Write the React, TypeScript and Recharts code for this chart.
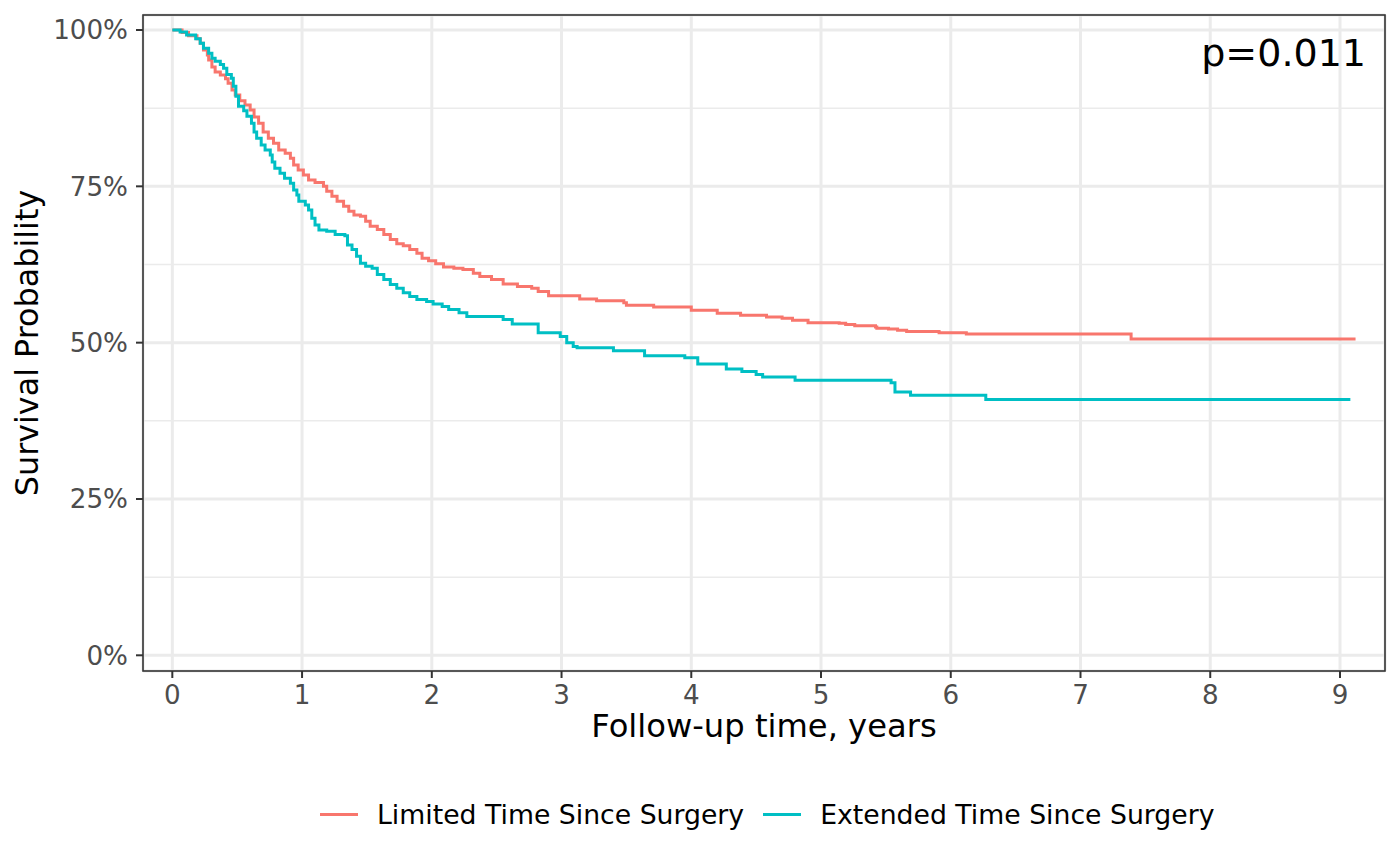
import React from 'react';
import { LineChart, Line, XAxis, YAxis, CartesianGrid } from 'recharts';

// ---- data (survival in %, time in years) ----
const limitedTime = [
  0, 0.075, 0.125, 0.19, 0.215, 0.24, 0.27, 0.28, 0.305, 0.33, 0.37, 0.41, 0.43, 0.46, 0.485,
  0.52, 0.56, 0.6, 0.63, 0.665, 0.7, 0.74, 0.78, 0.82, 0.87, 0.91, 0.935, 0.97, 1.01, 1.05,
  1.1, 1.165, 1.19, 1.23, 1.27, 1.32, 1.36, 1.4, 1.45, 1.49, 1.525, 1.58, 1.63, 1.68, 1.73,
  1.78, 1.83, 1.885, 1.925, 1.975, 2.03, 2.09, 2.17, 2.24, 2.32, 2.37, 2.46, 2.55, 2.66, 2.77,
  2.82, 2.9, 3.14, 3.27, 3.48, 3.5, 3.71, 4.0, 4.2, 4.38, 4.58, 4.7, 4.78, 4.9, 5.14,
  5.19, 5.26, 5.42, 5.43, 5.52, 5.59, 5.66, 5.91, 6.12, 7.39, 9.12,
];
const limitedSurv = [
  100, 99.6, 99.1, 98.6, 97.9, 96.8, 96.0, 95.2, 94.1, 93.3, 92.8, 92.2, 91.5, 90.4, 89.6,
  88.7, 88.0, 87.2, 86.1, 85.1, 83.7, 82.7, 81.9, 80.8, 80.3, 79.5, 78.4, 77.6, 76.8, 76.0,
  75.6, 75.0, 74.2, 73.4, 72.6, 71.8, 71.0, 70.4, 70.2, 69.4, 68.6, 68.1, 67.3, 66.5, 65.8,
  65.5, 64.9, 64.3, 63.5, 63.1, 62.6, 62.1, 61.9, 61.7, 61.1, 60.6, 60.1, 59.4, 59.0, 58.7,
  58.2, 57.5, 57.0, 56.7, 56.4, 56.0, 55.7, 55.2, 54.7, 54.4, 54.1, 53.9, 53.6, 53.2, 53.1,
  52.9, 52.7, 52.5, 52.3, 52.2, 52.0, 51.8, 51.6, 51.4, 50.6, 50.6,
];
const extendedTime = [
  0, 0.06, 0.11, 0.18, 0.215, 0.24, 0.28, 0.305, 0.33, 0.37, 0.395, 0.42, 0.455, 0.47, 0.49,
  0.51, 0.55, 0.575, 0.61, 0.63, 0.65, 0.685, 0.715, 0.755, 0.77, 0.79, 0.83, 0.865, 0.91, 0.935,
  0.96, 0.975, 1.025, 1.05, 1.075, 1.1, 1.13, 1.19, 1.255, 1.33, 1.35, 1.385, 1.42, 1.45, 1.49,
  1.54, 1.58, 1.63, 1.68, 1.73, 1.78, 1.83, 1.885, 1.96, 2.01, 2.08, 2.13, 2.21, 2.27, 2.55,
  2.62, 2.82, 2.99, 3.04, 3.09, 3.12, 3.4, 3.64, 3.95, 4.05, 4.27, 4.39, 4.5, 4.55, 4.8,
  5.54, 5.57, 5.69, 6.27, 9.08,
];
const extendedSurv = [
  100, 99.7, 99.2, 98.6, 97.9, 97.1, 96.3, 95.5, 95.0, 94.5, 93.9, 92.9, 92.3, 91.0, 89.4,
  87.8, 87.1, 86.2, 85.1, 83.7, 82.7, 81.6, 80.8, 80.0, 78.9, 77.9, 77.1, 76.3, 75.5, 74.4,
  73.6, 72.6, 72.0, 71.2, 69.9, 68.8, 68.0, 67.8, 67.3, 67.1, 65.6, 64.9, 63.8, 62.7, 62.2,
  61.9, 60.9, 60.1, 59.3, 58.7, 58.0, 57.4, 56.9, 56.6, 56.2, 55.8, 55.3, 54.8, 54.2, 53.7,
  53.0, 51.6, 51.0, 50.0, 49.4, 49.2, 48.7, 47.9, 47.6, 46.6, 45.8, 45.4, 44.9, 44.5, 44.0,
  43.6, 42.1, 41.6, 40.9, 40.9,
];

const seriesNames = ['Limited Time Since Surgery', 'Extended Time Since Surgery'];
const seriesColors = ['#F8766D', '#00BFC4'];
const xTicks = [0, 1, 2, 3, 4, 5, 6, 7, 8, 9];
const xMinorTicks = [0.5, 1.5, 2.5, 3.5, 4.5, 5.5, 6.5, 7.5, 8.5];
const yTicks = [0, 25, 50, 75, 100];
const yMinorTicks = [12.5, 37.5, 62.5, 87.5];
const xTitle = 'Follow-up time, years';
const yTitle = 'Survival Probability';
const pValueText = 'p=0.011';

const limitedData = limitedTime.map((t, i) => ({ t, s: limitedSurv[i] }));
const extendedData = extendedTime.map((t, i) => ({ t, s: extendedSurv[i] }));

const FONT = '"DejaVu Sans", Verdana, sans-serif';
const W = 1400;
const H = 866;
const M = { top: 15, right: 15, left: 0, bottom: 135 };
const Y_AXIS_W = 143;
const X_AXIS_H = 60;
const X_DOMAIN: [number, number] = [-0.226, 9.347];
const Y_DOMAIN: [number, number] = [-2.51, 102.4];

const XTitle = (props: any) => {
  const vb = props.viewBox || { x: 0, y: 0, width: 0, height: 0 };
  return (
    <text x={vb.x + vb.width / 2} y={vb.y + 66} textAnchor="middle" fontSize={32.2} fill="#000" fontFamily={FONT}>
      {xTitle}
    </text>
  );
};

const YTitle = (props: any) => {
  const vb = props.viewBox || { x: 0, y: 0, width: 0, height: 0 };
  return (
    <text
      transform={`translate(${vb.x + 38},${vb.y + vb.height / 2}) rotate(-90)`}
      textAnchor="middle"
      fontSize={31.8}
      fill="#000"
      fontFamily={FONT}
    >
      {yTitle}
    </text>
  );
};

const tickStyle = { fontSize: 26.2, fill: '#4D4D4D', fontFamily: FONT };

export default function App() {
  const plotL = M.left + Y_AXIS_W;
  const plotT = M.top;
  const plotW = W - plotL - M.right;
  const plotH = H - M.top - M.bottom - X_AXIS_H;
  return (
    <div style={{ position: 'absolute', left: 0, top: 0, width: W, height: H, background: '#fff', fontFamily: FONT }}>
      <LineChart width={W} height={H} margin={M}>
        <XAxis xAxisId="minor" type="number" domain={X_DOMAIN} ticks={[...xMinorTicks, ...xTicks]} allowDataOverflow hide interval={0} />
        <YAxis yAxisId="minor" type="number" domain={Y_DOMAIN} ticks={[...yMinorTicks, ...yTicks]} allowDataOverflow hide interval={0} />
        <CartesianGrid xAxisId="minor" yAxisId="minor" stroke="#EBEBEB" strokeWidth={1.5} />
        <CartesianGrid stroke="#EBEBEB" strokeWidth={3} />
        <XAxis
          type="number"
          dataKey="t"
          domain={X_DOMAIN}
          ticks={xTicks}
          interval={0}
          allowDataOverflow
          height={X_AXIS_H}
          axisLine={false}
          tickLine={{ stroke: '#333333', strokeWidth: 2 }}
          tickSize={7}
          tickMargin={7}
          tick={tickStyle}
          label={{ content: XTitle }}
        />
        <YAxis
          type="number"
          domain={Y_DOMAIN}
          ticks={yTicks}
          interval={0}
          allowDataOverflow
          width={Y_AXIS_W}
          axisLine={false}
          tickLine={{ stroke: '#333333', strokeWidth: 2 }}
          tickSize={7}
          tickMargin={8}
          tick={tickStyle}
          tickFormatter={(v: number) => `${v}%`}
          label={{ content: YTitle }}
        />
        <Line
          data={limitedData}
          dataKey="s"
          name={seriesNames[0]}
          type="stepAfter"
          stroke={seriesColors[0]}
          strokeWidth={3}
          dot={false}
          activeDot={false}
          isAnimationActive={false}
        />
        <Line
          data={extendedData}
          dataKey="s"
          name={seriesNames[1]}
          type="stepAfter"
          stroke={seriesColors[1]}
          strokeWidth={3}
          dot={false}
          activeDot={false}
          isAnimationActive={false}
        />
      </LineChart>
      <svg width={W} height={H} style={{ position: 'absolute', left: 0, top: 0, pointerEvents: 'none' }}>
        <rect x={plotL} y={plotT} width={plotW} height={plotH} fill="none" stroke="#333333" strokeWidth={1.6} />
        <text x={plotL + plotW - 19} y={66} textAnchor="end" fontSize={38} fill="#000" fontFamily={FONT}>
          {pValueText}
        </text>
      </svg>
      <div
        style={{
          position: 'absolute',
          left: 320,
          top: 794,
          height: 40,
          display: 'flex',
          alignItems: 'center',
          fontSize: 26.7,
          fontFamily: FONT,
          color: '#000',
          whiteSpace: 'nowrap',
        }}
      >
        {seriesNames.map((n, i) => (
          <div key={n} style={{ display: 'flex', alignItems: 'center', marginRight: i === 0 ? 19 : 0 }}>
            <span style={{ display: 'inline-block', width: 38, height: 3, background: seriesColors[i], marginRight: 19 }} />
            <span>{n}</span>
          </div>
        ))}
      </div>
    </div>
  );
}
